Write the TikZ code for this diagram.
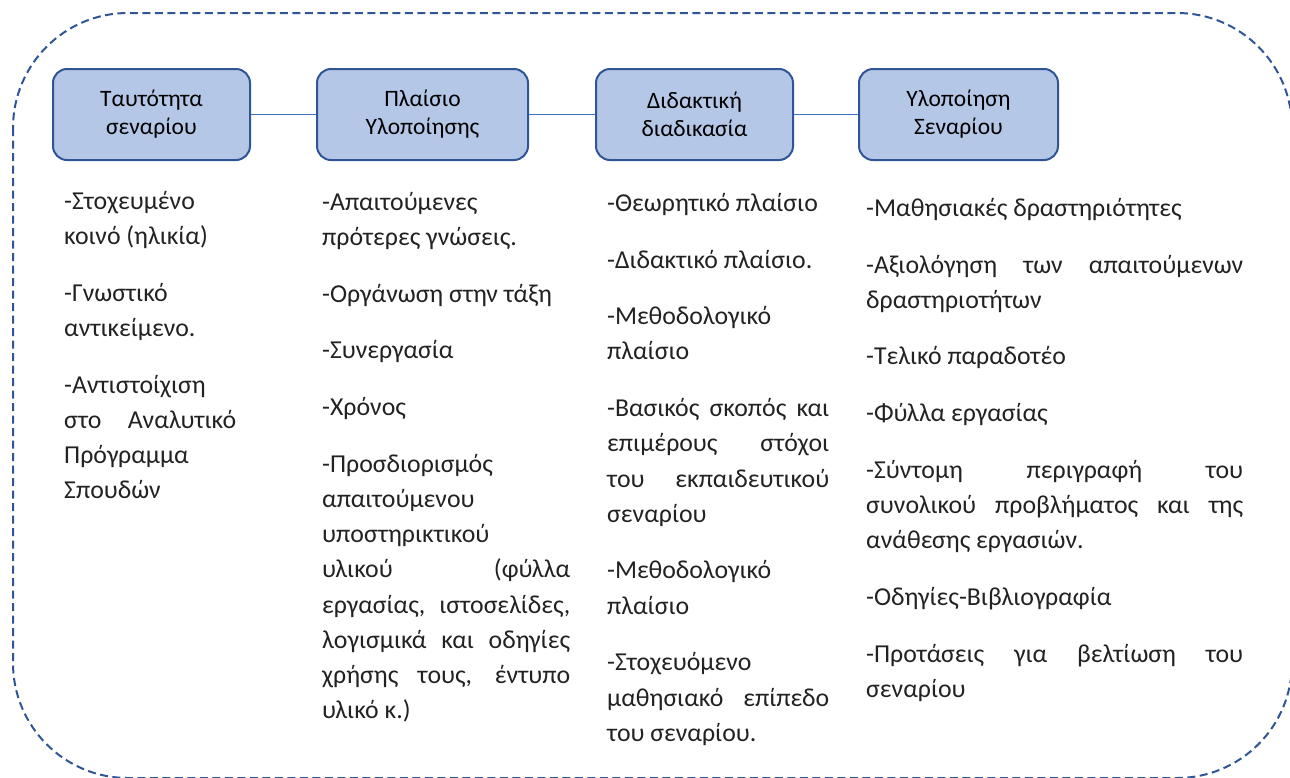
\documentclass[tikz,border=0pt]{standalone}
\usepackage{fontspec}
\setmainfont{Carlito}
\definecolor{dkblue}{HTML}{2F5597}
\definecolor{boxfill}{HTML}{B4C7E7}
\definecolor{lnblue}{HTML}{4472C4}
\definecolor{txt}{HTML}{222222}
\tikzset{
  head/.style={draw=dkblue, fill=boxfill, line width=2pt, rounded corners=14pt,
    minimum height=91pt, inner sep=0pt, align=center, text=black,
    font=\fontsize{23.5}{28}\selectfont},
  link/.style={draw=lnblue, line width=1pt},
  col/.style={anchor=north west, inner sep=0pt, align=justify, text=txt,
    font=\fontsize{25.8}{35.2}\selectfont,
    execute at begin node={\setlength{\parskip}{21.5pt}}},
  frame/.style={draw=dkblue, line width=2pt, dash pattern=on 8pt off 4.5pt, rounded corners=115pt}
}
\begin{document}
\begin{tikzpicture}[x=1pt,y=-1pt]
\useasboundingbox (0,0) rectangle (1290,777);
\clip (0,0) rectangle (1290,777);
\draw[frame] (13,13) rectangle (1292,778);

\node[head, minimum width=197pt] (b1) at (151.5,114.5) {Ταυτότητα\\σεναρίου};
\node[head, minimum width=211pt] (b2) at (422.5,114.5) {Πλαίσιο\\Υλοποίησης};
\node[head, minimum width=197pt] (b3) at (694.5,114.5) {Διδακτική\\διαδικασία};
\node[head, minimum width=199pt] (b4) at (958.5,114.5) {Υλοποίηση\\Σεναρίου};
\draw[link] (b1) -- (b2);
\draw[link] (b2) -- (b3);
\draw[link] (b3) -- (b4);

\node[col, text width=172pt] (c1) at (64,191) {%
-Στοχευμένο\linebreak κοινό (ηλικία)\par
-Γνωστικό\linebreak αντικείμενο.\par
-Αντιστοίχιση\linebreak στο Αναλυτικό\linebreak Πρόγραμμα\linebreak Σπουδών\par};

\node[col, text width=248pt] (c2) at (322,192) {%
-Απαιτούμενες\linebreak πρότερες γνώσεις.\par
-Οργάνωση στην τάξη\par
-Συνεργασία\par
-Χρόνος\par
-Προσδιορισμός\linebreak απαιτούμενου\linebreak υποστηρικτικού\linebreak υλικού (φύλλα\linebreak εργασίας, ιστοσελίδες,\linebreak λογισμικά και οδηγίες\linebreak χρήσης τους, έντυπο\linebreak υλικό κ.)\par};

\node[col, text width=222pt] (c3) at (607,193) {%
-Θεωρητικό πλαίσιο\par
-Διδακτικό πλαίσιο.\par
-Μεθοδολογικό\linebreak πλαίσιο\par
-Βασικός σκοπός και\linebreak επιμέρους στόχοι\linebreak του εκπαιδευτικού\linebreak σεναρίου\par
-Μεθοδολογικό\linebreak πλαίσιο\par
-Στοχευόμενο\linebreak μαθησιακό επίπεδο\linebreak του σεναρίου.\par};

\node[col, text width=377pt] (c4) at (866,198) {%
-Μαθησιακές δραστηριότητες\par
-Αξιολόγηση των απαιτούμενων\linebreak δραστηριοτήτων\par
-Τελικό παραδοτέο\par
-Φύλλα εργασίας\par
-Σύντομη περιγραφή του\linebreak συνολικού προβλήματος και της\linebreak ανάθεσης εργασιών.\par
-Οδηγίες-Βιβλιογραφία\par
-Προτάσεις για βελτίωση του\linebreak σεναρίου\par};
\end{tikzpicture}
\end{document}
